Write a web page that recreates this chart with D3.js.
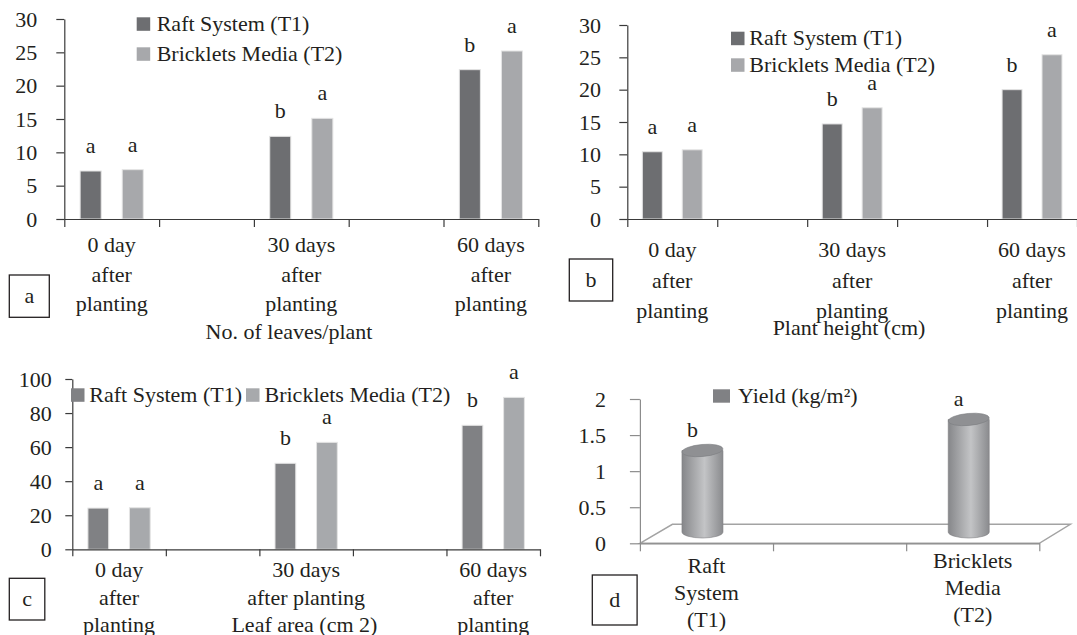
<!DOCTYPE html>
<html>
<head>
<meta charset="utf-8">
<script src="https://cdn.jsdelivr.net/npm/d3@7"></script>
<style>
  body { margin: 0; background: #fff; }
  svg, text, tspan { font-family: "Liberation Serif", "DejaVu Serif", "Noto Serif", "Times New Roman", Times, serif; }
  text { fill: #231f20; }
</style>
</head>
<body>
<svg id="chart"></svg>
<script>
const seriesNames = ["Raft System (T1)", "Bricklets Media (T2)"];
const stageLabels = [["0 day", "after", "planting"], ["30 days", "after", "planting"], ["60 days", "after", "planting"]];
const stageLabelsArea = [["0 day", "after", "planting"], ["30 days", "after planting"], ["60 days", "after", "planting"]];

const leavesT1 = [7.2, 12.4, 22.4];
const leavesT2 = [7.4, 15.1, 25.2];
const leavesLettersT1 = ["a", "b", "b"];
const leavesLettersT2 = ["a", "a", "a"];
const leavesTicks = [0, 5, 10, 15, 20, 25, 30];

const heightT1 = [10.4, 14.7, 20.0];
const heightT2 = [10.7, 17.2, 25.4];
const heightLettersT1 = ["a", "b", "b"];
const heightLettersT2 = ["a", "a", "a"];
const heightTicks = [0, 5, 10, 15, 20, 25, 30];

const areaT1 = [24.2, 50.5, 72.8];
const areaT2 = [24.4, 62.8, 89.2];
const areaLettersT1 = ["a", "b", "b"];
const areaLettersT2 = ["a", "a", "a"];
const areaTicks = [0, 20, 40, 60, 80, 100];

const yieldName = "Yield (kg/m²)";
const yieldLabels = [["Raft", "System", "(T1)"], ["Bricklets", "Media", "(T2)"]];
const yieldValues = [1.13, 1.56];
const yieldLetters = ["b", "a"];
const yieldTicks = [0, 0.5, 1, 1.5, 2];

const width = 1077;
const height = 635;
const fontSize = 22;
const serif = '"Liberation Serif", "DejaVu Serif", "Noto Serif", "Times New Roman", Times, serif';

const svg = d3.select("#chart")
  .attr("width", width)
  .attr("height", height)
  .attr("font-family", serif);

function styleAxis(g, color) {
  g.attr("font-family", serif).attr("font-size", fontSize).attr("color", color);
  g.selectAll("path, line").attr("stroke-width", 1.2);
}

function letterBox(b) {
  svg.append("rect")
    .attr("x", b.x).attr("y", b.y)
    .attr("width", b.w).attr("height", b.h)
    .attr("fill", "none").attr("stroke", "#231f20").attr("stroke-width", 1.3);
  svg.append("text")
    .attr("x", b.x + b.w / 2).attr("y", b.y + b.h / 2)
    .attr("dy", "0.32em").attr("text-anchor", "middle")
    .attr("font-size", fontSize).text(b.text);
}

function barPanel(p) {
  const g = svg.append("g");
  const y = d3.scaleLinear().domain([0, p.max]).range([p.y0, p.yTop]);
  const nSlots = p.labels.length * 2 - 1;
  const slots = d3.scaleBand().domain(d3.range(nSlots)).range([p.x0, p.x1]);
  const edge = d3.scaleLinear().domain([0, nSlots]).range([p.x0, p.x1]);
  const bw = slots.bandwidth();
  const inner = d3.scaleBand().domain([0, 1])
    .range([bw * 0.167, bw * 0.833])
    .paddingInner(0.5);

  const rows = p.labels.map((lab, i) => ({
    i: i,
    lines: lab,
    vals: [p.t1[i], p.t2[i]],
    letters: [p.l1[i], p.l2[i]]
  }));

  const groups = g.selectAll(".stage")
    .data(rows)
    .join("g")
    .attr("class", "stage")
    .attr("transform", d => `translate(${slots(d.i * 2)},0)`);

  groups.selectAll("rect")
    .data(d => d.vals)
    .join("rect")
    .attr("x", (d, k) => inner(k))
    .attr("y", d => y(d))
    .attr("width", inner.bandwidth())
    .attr("height", d => y(0) - y(d))
    .attr("fill", (d, k) => p.colors[k])
    .attr("stroke", "#e4e4e4")
    .attr("stroke-width", 1);

  groups.selectAll("text.sig")
    .data(d => d.vals.map((v, k) => ({ v: v, k: k, t: d.letters[k] })))
    .join("text")
    .attr("class", "sig")
    .attr("x", d => inner(d.k) + inner.bandwidth() / 2)
    .attr("y", d => y(d.v) - 18)
    .attr("text-anchor", "middle")
    .attr("font-size", fontSize)
    .text(d => d.t);

  g.append("g")
    .attr("transform", `translate(0,${p.y0})`)
    .call(d3.axisBottom(edge).tickValues(d3.range(nSlots + 1)).tickSize(p.tick).tickSizeOuter(0).tickFormat(""))
    .call(a => styleAxis(a, "#3a3a3a"));

  g.append("g")
    .attr("transform", `translate(${p.x0},0)`)
    .call(d3.axisLeft(y).tickValues(p.ticks).tickSize(p.tick).tickSizeOuter(0).tickPadding(p.pad))
    .call(a => styleAxis(a, "#3a3a3a"));

  const labels = g.selectAll(".cat")
    .data(rows)
    .join("text")
    .attr("class", "cat")
    .attr("text-anchor", "middle")
    .attr("font-size", fontSize);
  labels.selectAll("tspan")
    .data(d => d.lines.map(t => ({ t: t, x: slots(d.i * 2) + bw / 2 })))
    .join("tspan")
    .attr("x", d => d.x)
    .attr("y", (d, k) => p.y0 + p.labelDy + k * p.lineH)
    .text(d => d.t);

  g.append("text")
    .attr("x", p.title.x).attr("y", p.title.y)
    .attr("text-anchor", "middle").attr("font-size", fontSize)
    .text(p.title.text);

  p.legend.forEach((L, k) => {
    g.append("rect")
      .attr("x", L.sx).attr("y", L.sy)
      .attr("width", 13.5).attr("height", 13.5)
      .attr("fill", p.colors[k]);
    g.append("text")
      .attr("x", L.tx).attr("y", L.ty)
      .attr("font-size", fontSize)
      .text(seriesNames[k]);
  });

  letterBox(p.box);
}

// a - leaves
barPanel({
  x0: 64.3, x1: 538.3, y0: 219, yTop: 19, max: 30, ticks: leavesTicks,
  tick: 8, pad: 19,
  labels: stageLabels, t1: leavesT1, t2: leavesT2, l1: leavesLettersT1, l2: leavesLettersT2,
  colors: ["#6d6e71", "#a7a8ab"],
  labelDy: 33, lineH: 29.5,
  title: { text: "No. of leaves/plant", x: 289, y: 339 },
  legend: [{ sx: 136.7, sy: 17.3, tx: 156.7, ty: 30.7 }, { sx: 136.7, sy: 47.3, tx: 156.7, ty: 61 }],
  box: { x: 9.3, y: 275, w: 40, h: 42.3, text: "a" }
});

// b - plant height
barPanel({
  x0: 627.3, x1: 1077, y0: 219, yTop: 25, max: 30, ticks: heightTicks,
  tick: 8, pad: 18.3,
  labels: stageLabels, t1: heightT1, t2: heightT2, l1: heightLettersT1, l2: heightLettersT2,
  colors: ["#6d6e71", "#a7a8ab"],
  labelDy: 37.7, lineH: 30.8,
  title: { text: "Plant height (cm)", x: 849, y: 335 },
  legend: [{ sx: 731, sy: 31.7, tx: 749.3, ty: 45 }, { sx: 731, sy: 58.3, tx: 749.3, ty: 71.7 }],
  box: { x: 569.3, y: 259, w: 43.4, h: 42, text: "b" }
});

// c - leaf area
barPanel({
  x0: 72.3, x1: 540, y0: 549.3, yTop: 379, max: 100, ticks: areaTicks,
  tick: 7, pad: 13.6,
  labels: stageLabelsArea, t1: areaT1, t2: areaT2, l1: areaLettersT1, l2: areaLettersT2,
  colors: ["#808184", "#a7a9ac"],
  labelDy: 27.4, lineH: 27.8,
  title: { text: "Leaf area (cm 2)", x: 304.4, y: 631.7 },
  legend: [{ sx: 71, sy: 388.3, tx: 89.3, ty: 401.7 }, { sx: 246, sy: 388.3, tx: 264.5, ty: 401.7 }],
  box: { x: 9.3, y: 578.3, w: 35.5, h: 41.7, text: "c" }
});

// d - yield (3D cylinders)
(function () {
  const g = svg.append("g");
  const x0 = 639.9, x1 = 1039.3;
  const y = d3.scaleLinear().domain([0, 2]).range([543.3, 399]);
  const nSlots = yieldValues.length * 2 - 1;
  const slots = d3.scaleBand().domain(d3.range(nSlots)).range([x0, x1]);
  const edge = d3.scaleLinear().domain([0, nSlots]).range([x0, x1]);
  const bw = slots.bandwidth();
  const depthX = 32.5, depthY = -19;
  const mid = -11.3;

  const defs = svg.append("defs");
  const grad = defs.append("linearGradient").attr("id", "cyl").attr("x1", "0%").attr("x2", "100%");
  grad.append("stop").attr("offset", "0%").attr("stop-color", "#86878a");
  grad.append("stop").attr("offset", "55%").attr("stop-color", "#c3c4c6");
  grad.append("stop").attr("offset", "100%").attr("stop-color", "#8a8b8e");

  g.append("polygon")
    .attr("points", [
      [x0, y(0)], [x0 + depthX, y(0) + depthY],
      [x1 + depthX - 1.5, y(0) + depthY], [x1, y(0)]
    ].map(d => d.join(",")).join(" "))
    .attr("fill", "#fff")
    .attr("stroke", "#a3a3a3")
    .attr("stroke-width", 1.5);

  const rx = 20.5, ry = 6;
  const cyl = g.selectAll(".cyl")
    .data(yieldValues.map((v, i) => ({ v: v, i: i, t: yieldLetters[i] })))
    .join("g")
    .attr("class", "cyl");

  cyl.append("path")
    .attr("d", d => {
      const cx = slots(d.i * 2) + bw / 2 - 4;
      const top = y(d.v) + mid, base = y(0) + mid;
      return `M${cx - rx},${top} L${cx - rx},${base} A${rx},${ry} 0 0 0 ${cx + rx},${base} L${cx + rx},${top} Z`;
    })
    .attr("fill", "url(#cyl)")
    .attr("stroke", "#7d7e81")
    .attr("stroke-width", 0.6);

  cyl.append("ellipse")
    .attr("cx", d => slots(d.i * 2) + bw / 2 - 4)
    .attr("cy", d => y(d.v) + mid)
    .attr("rx", rx).attr("ry", ry)
    .attr("transform", d => `rotate(-5,${slots(d.i * 2) + bw / 2 - 4},${y(d.v) + mid})`)
    .attr("fill", "#8f9093")
    .attr("stroke", "#7d7e81")
    .attr("stroke-width", 0.6);

  cyl.append("text")
    .attr("x", d => slots(d.i * 2) + bw / 2 - 14)
    .attr("y", d => y(d.v) + mid - 13)
    .attr("text-anchor", "middle")
    .attr("font-size", fontSize)
    .text(d => d.t);

  g.append("g")
    .attr("transform", `translate(0,${y(0)})`)
    .call(d3.axisBottom(edge).tickValues(d3.range(nSlots + 1)).tickSize(8).tickSizeOuter(0).tickFormat(""))
    .call(a => styleAxis(a, "#8c8c8c"));

  g.append("g")
    .attr("transform", `translate(${x0},0)`)
    .call(d3.axisLeft(y).tickValues(yieldTicks).tickSize(10).tickSizeOuter(0).tickPadding(24).tickFormat(d => String(d)))
    .call(a => styleAxis(a, "#8c8c8c"));

  g.selectAll(".cat")
    .data(yieldLabels)
    .join("text")
    .attr("class", "cat")
    .attr("text-anchor", "middle")
    .attr("font-size", fontSize)
    .selectAll("tspan")
    .data((d, i) => d.map(t => ({ t: t, x: slots(i * 2) + bw / 2, dy: i === 0 ? 30 : 25 })))
    .join("tspan")
    .attr("x", d => d.x)
    .attr("y", (d, k) => y(0) + d.dy + k * 26.7)
    .text(d => d.t);

  g.append("rect")
    .attr("x", 713).attr("y", 389.3)
    .attr("width", 17).attr("height", 13.4)
    .attr("fill", "#808184");
  g.append("text")
    .attr("x", 738).attr("y", 402.7)
    .attr("font-size", fontSize)
    .text(yieldName);

  letterBox({ x: 592.3, y: 575, w: 44.8, h: 50, text: "d" });
})();
</script>
</body>
</html>
